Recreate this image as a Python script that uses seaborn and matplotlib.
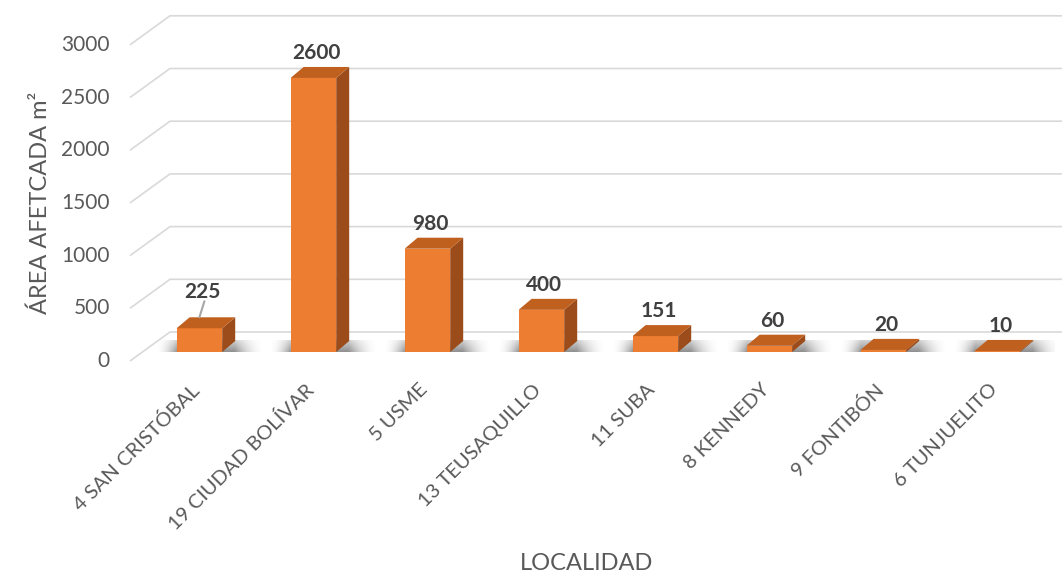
import numpy as np
import pandas as pd
import matplotlib
matplotlib.use('Agg')
import matplotlib.pyplot as plt
import seaborn as sns
from matplotlib.patches import Polygon

# data
localidades = ['4 SAN CRISTÓBAL', '19 CIUDAD BOLÍVAR', '5 USME', '13 TEUSAQUILLO',
               '11 SUBA', '8 KENNEDY', '9 FONTIBÓN', '6 TUNJUELITO']
area = [225, 2600, 980, 400, 151, 60, 20, 10]
y_ticks = [0, 500, 1000, 1500, 2000, 2500, 3000]

W, H, DPI = 1062, 573, 100
ORANGE, TOP, SIDE = '#ED7D31', '#C0601F', '#9C4C1A'
TEXT, LABEL, GRID = '#595959', '#404040', '#D9D9D9'

sns.set_theme(style='white')
plt.rcParams['font.family'] = ['Lato', 'DejaVu Sans']

fig = plt.figure(figsize=(W / DPI, H / DPI), dpi=DPI)
fig.patch.set_facecolor('white')

# axes = plane of the front faces of the bars (pixel layout of the excel 3D chart)
ax_l, ax_r, ax_t, ax_b = 142.4, 1054.4, 35.8, 352.0
ax = fig.add_axes([ax_l / W, 1 - ax_b / H, (ax_r - ax_l) / W, (ax_b - ax_t) / H])

df = pd.DataFrame({'localidad': localidades, 'area': area})
sns.barplot(data=df, x='localidad', y='area', color=ORANGE, saturation=1,
            width=0.4, linewidth=0, edgecolor='none', ax=ax, zorder=3)
n = len(localidades)
ax.set_xlim(-0.5, n - 0.5)
ax.set_ylim(0, 3000)
ax.axis('off')

ppx = (ax_r - ax_l) / n        # pixels per category
ppy = (ax_b - ax_t) / 3000     # pixels per m2


def shift(x, y, dx, dy):
    # move a data point by (dx right, dy down) pixels
    return x + dx / ppx, y - dy / ppy


FRONT = (-12.4, 9)    # front edge of the floor
BACK = (27.6, -20)    # back wall
DX, DY = 13, -11      # bar depth

# walls / gridlines
for v in y_ticks:
    xf, yf = shift(-0.5, v, *FRONT)
    xb, yb = shift(-0.5, v, *BACK)
    xe, _ = shift(n - 0.5, v, *BACK)
    ax.plot([xf, xb, xe], [yf, yb, yb], color=GRID, lw=1.2,
            clip_on=False, zorder=1, solid_capstyle='butt')
    ax.text(xf - 20 / ppx, yf, str(v), ha='right', va='center',
            fontsize=15, color=TEXT, clip_on=False)

# bars: shadows, top and side faces, labels
for i, (p, v) in enumerate(zip(ax.patches, area)):
    x0, w, h = p.get_x(), p.get_width(), p.get_height()
    c = x0 + w / 2

    # soft floor shadow
    left, right = x0 - 22 / ppx, x0 + w + 42 / ppx
    xs = np.linspace(left, right, 200)
    a = np.interp(xs, [left, x0, x0 + w + 12 / ppx, right], [0, 1, 1, 0]) ** 2 * 0.65
    vert = np.linspace(1.0, 0.4, 20)[:, None]
    img = np.zeros((20, 200, 4))
    img[..., :3] = 0.3
    img[..., 3] = a[None, :] * vert
    y_lo, y_hi = shift(0, 0, 0, 1)[1], shift(0, 0, 0, -12)[1]
    ax.imshow(img, extent=[left, right, y_lo, y_hi], origin='lower',
              aspect='auto', zorder=0.5, interpolation='bilinear')

    top = [(x0, h), (x0 + w, h), shift(x0 + w, h, DX, DY), shift(x0, h, DX, DY)]
    side = [(x0 + w, 0), (x0 + w, h), shift(x0 + w, h, DX, DY), shift(x0 + w, 0, DX, DY)]
    ax.add_patch(Polygon(top, closed=True, fc=TOP, ec='none', zorder=3.2))
    ax.add_patch(Polygon(side, closed=True, fc=SIDE, ec='none', zorder=3.1))

    extra = 11 if i == 0 else 0
    lx, ly = shift(c, h, 3, DY - 14 - extra)
    ax.text(lx, ly, str(v), ha='center', va='center', fontsize=15,
            fontweight='bold', color=LABEL, clip_on=False, zorder=5)
    if extra:
        p0 = shift(c, h, 0, -11)
        p1 = shift(c, h, 5, DY - 14 - extra + 9)
        ax.plot([p0[0], p1[0]], [p0[1], p1[1]], color='#A6A6A6', lw=1.5,
                zorder=4, clip_on=False)

    tx, ty = shift(c, 0, -9, 29)
    ax.text(tx, ty, localidades[i], rotation=45, rotation_mode='anchor',
            ha='right', va='top', fontsize=14.5, color=TEXT, clip_on=False)

ax.set_xlim(-0.5, n - 0.5)
ax.set_ylim(0, 3000)

fig.text(40 / W, 1 - 203 / H, 'ÁREA AFETCADA m²', rotation=90, ha='center',
         va='center', fontsize=17, color=TEXT)
fig.text(587 / W, 1 - 564 / H, 'LOCALIDAD', ha='center', va='center',
         fontsize=17, color=TEXT)

fig.savefig('out.png', dpi=DPI, facecolor='white')
